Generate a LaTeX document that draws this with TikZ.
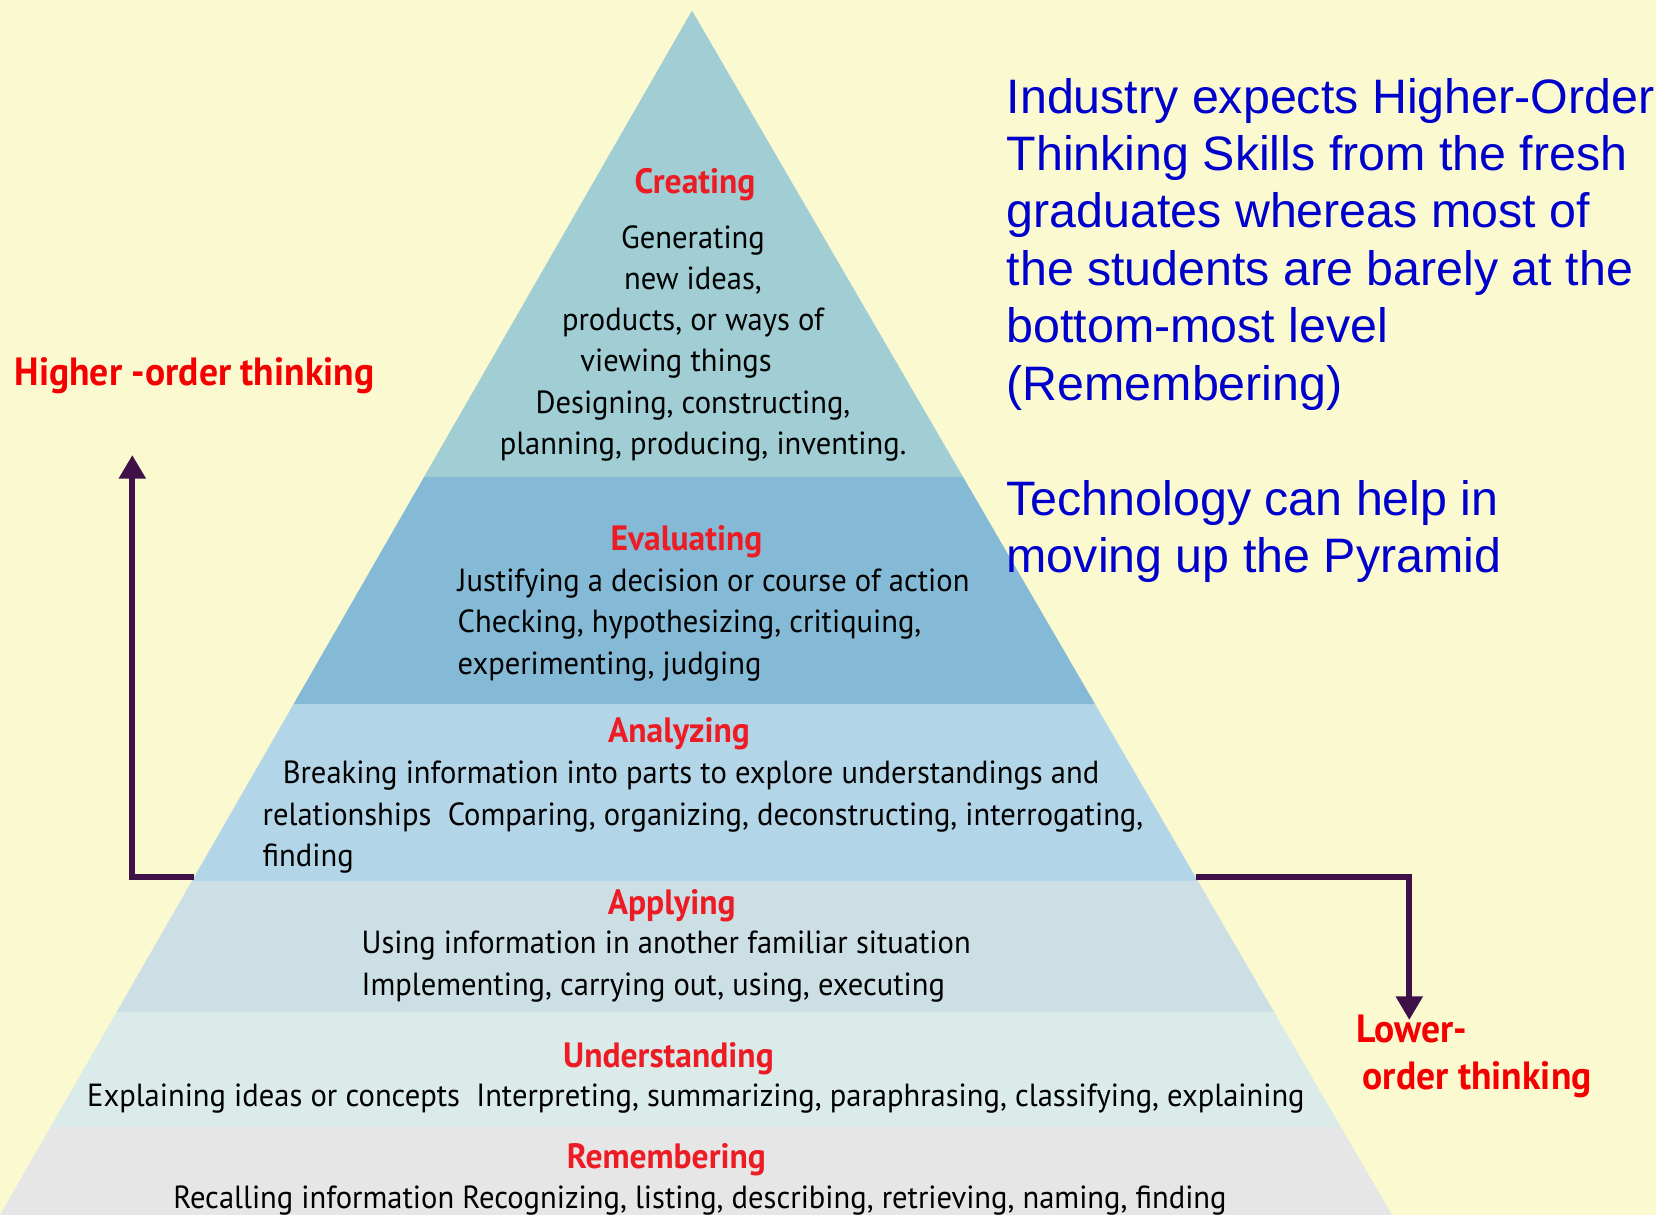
\documentclass[tikz,border=0pt]{standalone}
\usepackage{fontspec}
\usetikzlibrary{arrows.meta,calc}
\newfontfamily\pyrfont[FakeStretch=0.955]{PT Sans}
\newfontfamily\notefont{Liberation Sans}
\definecolor{bgyellow}{RGB}{251,249,207}
\definecolor{creatingc}{RGB}{160,206,212}
\definecolor{evaluatingc}{RGB}{133,186,214}
\definecolor{analyzingc}{RGB}{179,213,232}
\definecolor{applyingc}{RGB}{203,223,229}
\definecolor{understandingc}{RGB}{219,235,233}
\definecolor{rememberingc}{RGB}{230,230,230}
\definecolor{titlered}{RGB}{237,28,36}
\definecolor{labelred}{RGB}{245,0,0}
\definecolor{noteblue}{RGB}{0,0,204}
\definecolor{arrowpurple}{RGB}{64,16,72}
\begin{document}
\begin{tikzpicture}[x=0.01cm,y=-0.01cm,
  level/.style={font=\pyrfont\bfseries\fontsize{10}{12}\selectfont,text=titlered,inner sep=0pt,anchor=base},
  body/.style={font=\pyrfont\fontsize{9.1}{11.72}\selectfont,inner sep=0pt},
  thinking/.style={font=\pyrfont\bfseries\fontsize{11.2}{13.1}\selectfont,text=labelred,inner sep=0pt,align=left,anchor=base west},
  flow/.style={draw=arrowpurple,line width=1.7pt,-{Triangle[width=7.3pt,length=6.7pt]}}]%
\fill[bgyellow] (0,0) rectangle (1656,1215);%
\useasboundingbox (0,0) rectangle (1656,1215);%
%
\coordinate (apex) at (692,10.6);%
\coordinate (bl) at (0,1215);%
\coordinate (br) at (1392,1215);%
\begin{scope}%
\clip (apex) -- (bl) -- (br) -- cycle;%
\foreach \ytop/\ybot/\col in {0/477.4/creatingc,477.4/704.4/evaluatingc,704.4/881/analyzingc,881/1011.7/applyingc,1011.7/1127/understandingc,1127/1215/rememberingc}%
  \fill[\col] (0,\ytop) rectangle (1656,\ybot);%
\end{scope}%
%
% multi-line nodes sit on the baseline of their last line
\node[level] (creating) at (695,193.3) {Creating};%
\node[body,align=center,anchor=base] (creatingtxt) at (693,454.3) {Generating\\new ideas,\\products, or ways of\\\hspace*{-9.6pt}viewing things\\Designing, constructing,\\\hspace*{5.7pt}planning, producing, inventing.};%
%
\node[level] (evaluating) at (686.5,550.6) {Evaluating};%
\node[body,align=left,anchor=base west] (evaluatingtxt) at (457,674.2) {Justifying a decision or course of action\\Checking, hypothesizing, critiquing,\\experimenting, judging};%
%
\node[level] (analyzing) at (679,742.8) {Analyzing};%
\node[body,align=left,anchor=base west] (analyzingtxt) at (262,866.4) {\hspace*{5.7pt}Breaking information into parts to explore understandings and\\relationships~ Comparing, organizing, deconstructing, interrogating,\\finding};%
%
\node[level] (applying) at (671.7,914) {Applying};%
\node[body,align=left,anchor=base west] (applyingtxt) at (361,995.2) {Using information in another familiar situation\\Implementing, carrying out, using, executing};%
%
\node[level] (understanding) at (668.5,1067) {Understanding};%
\node[body,anchor=base] (understandingtxt) at (695.9,1106.7) {Explaining ideas or concepts~ Interpreting, summarizing, paraphrasing, classifying, explaining};%
%
\node[level] (remembering) at (666.4,1168.4) {Remembering};%
\node[body,anchor=base] (rememberingtxt) at (700,1208.6) {Recalling information Recognizing, listing, describing, retrieving, naming, finding};%
%
\node[thinking] (higher) at (14,385.7) {Higher -order thinking};%
\node[thinking] (lower) at (1356,1089) {Lower-\\\hspace*{1.7pt}order thinking};%
%
\coordinate (hl) at ($(apex)!0.7194!(bl)$);%
\coordinate (hr) at ($(apex)!0.7194!(br)$);%
\coordinate (uptip) at (132.3,455);%
\coordinate (downtip) at (1409.3,1020);%
\draw[flow] (hl) -| (uptip);%
\draw[flow] (hr) -| (downtip);%
%
\node[font=\notefont\fontsize{13.75}{16.33}\selectfont,text=noteblue,align=left,anchor=base west,inner sep=0pt] (note) at (1006,572.5) {Industry expects Higher-Order\\Thinking Skills from the fresh\\graduates whereas most of\\the students are barely at the\\bottom-most level\\(Remembering)\\ \\Technology can help in\\moving up the Pyramid};%
\end{tikzpicture}
\end{document}
